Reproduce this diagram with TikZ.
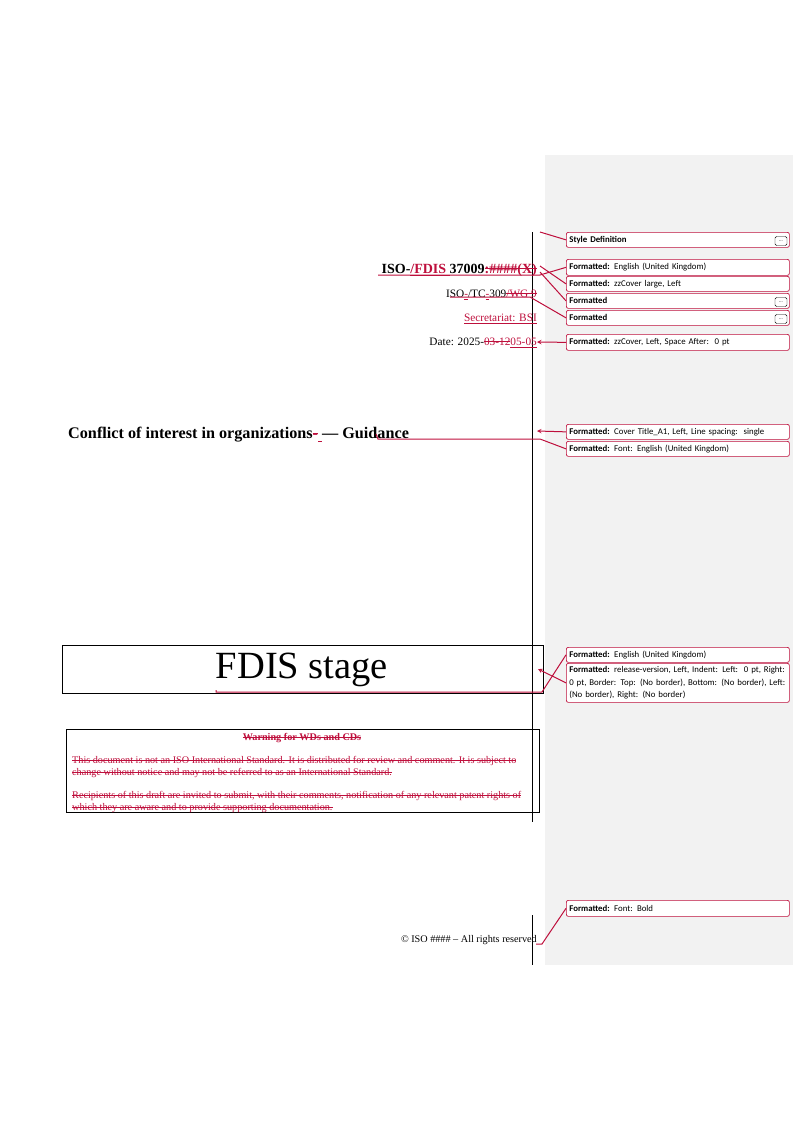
\documentclass[tikz,border=0pt]{standalone}
\usepackage{fontspec}
\setmainfont{Liberation Serif}
\newfontfamily\bfont{Carlito}
\definecolor{rev}{RGB}{190,15,60}
\definecolor{pane}{RGB}{242,242,242}
\newcommand{\del}[1]{{\color{rev}\setbox0=\hbox{#1}\rlap{\raisebox{0.28em}{\rule{\wd0}{0.6pt}}}\box0}}
\newcommand{\ins}[1]{{\color{rev}\setbox0=\hbox{#1}\rlap{\raisebox{-0.22em}{\rule{\wd0}{0.6pt}}}\box0}}
\begin{document}
\begin{tikzpicture}[x=1pt,y=-1pt,
  balloon/.style={draw=rev,rounded corners=2pt,line width=0.7pt,fill=white,anchor=north west,minimum width=223pt,text width=217pt,inner sep=3pt,font=\bfont\fontsize{8.8}{12.5}\selectfont,align=left},
  lead/.style={rev,line width=1pt},
  more/.style={draw,rounded corners=1.5pt,minimum width=12pt,minimum height=9pt,inner sep=0pt,font=\bfont\tiny,fill=white},
  wtxt/.style={font=\fontsize{10.2}{12}\selectfont,anchor=base west,inner sep=0pt}]
\useasboundingbox (0,0) rectangle (793,1122);
\fill[pane] (545,155) rectangle (793,965);
\draw[line width=0.8pt] (532,232) -- (532,822);
\draw[line width=0.8pt] (532,915) -- (532,965);
% balloons
\node[balloon,minimum height=15pt] (b1) at (566,232) {\textbf{Style Definition}};
\node[more] at (781,241) {...};
\node[balloon,minimum height=16pt] (b2) at (566,259) {\textbf{Formatted:} English (United Kingdom)};
\node[balloon,minimum height=15pt] (b3) at (566,276) {\textbf{Formatted:} zzCover large, Left};
\node[balloon,minimum height=15pt] (b4) at (566,293) {\textbf{Formatted}};
\node[more] at (781,302) {...};
\node[balloon,minimum height=15pt] (b5) at (566,310) {\textbf{Formatted}};
\node[more] at (781,319) {...};
\node[balloon,minimum height=16pt] (b6) at (566,334) {\textbf{Formatted:} zzCover, Left, Space After:\ \ 0 pt};
\node[balloon,minimum height=15pt] (b7) at (566,424) {\textbf{Formatted:} Cover Title\_A1, Left, Line spacing:\ \ single};
\node[balloon,minimum height=15pt] (b8) at (566,441) {\textbf{Formatted:} Font: English (United Kingdom)};
\node[balloon,minimum height=15pt] (b9) at (566,647) {\textbf{Formatted:} English (United Kingdom)};
\node[balloon,minimum height=39pt] (b10) at (566,663) {\textbf{Formatted:} release-version, Left, Indent: Left:\ \ 0 pt, Right:\ \ 0 pt, Border: Top: (No border), Bottom: (No border), Left: (No border), Right: (No border)};
\node[balloon,minimum height=16pt] (b11) at (566,900) {\textbf{Formatted:} Font: Bold};
% texts
\node[anchor=base east,inner sep=0pt,font=\fontsize{14}{16}\selectfont\bfseries] (t1) at (537,273) {ISO-\ins{/FDIS }37009\del{:\#\#\#\#(X)}};
\node[anchor=base east,inner sep=0pt,font=\fontsize{11.3}{13}\selectfont] (t2) at (537,297) {ISO\ins{-}/TC\ins{-}309\del{/WG 9}};
\node[anchor=base east,inner sep=0pt,font=\fontsize{11.3}{13}\selectfont] (t3) at (537,321) {\ins{Secretariat: BSI}};
\node[anchor=base east,inner sep=0pt,font=\fontsize{11.3}{13}\selectfont] (t4) at (537,345) {Date: 2025-\del{03-12}\ins{05-05}};
\node[anchor=base west,inner sep=0pt,font=\fontsize{16.2}{18}\selectfont\bfseries] (t5) at (68,438) {Conflict of interest in organizations\del{-}\ins{ }— Guidance};
\node[draw,line width=0.8pt,minimum width=481pt,minimum height=48pt,anchor=north west,inner sep=0pt] (fb) at (62,645) {};
\node[font=\fontsize{38.5}{42}\selectfont] (fd) at (302,670) {FDIS stage};
\node[draw,line width=0.8pt,minimum width=473pt,minimum height=83pt,anchor=north west,inner sep=0pt] (wb) at (66,729) {};
\node[font=\fontsize{10.2}{12}\selectfont\bfseries,anchor=base] (w1) at (302,740) {\del{Warning for WDs and CDs}};
\node[wtxt] (w2) at (72,763) {\del{This document is not an ISO International Standard. It is distributed for review and comment. It is subject to}};
\node[wtxt] (w3) at (72,775) {\del{change without notice and may not be referred to as an International Standard.}};
\node[wtxt] (w4) at (72,798) {\del{Recipients of this draft are invited to submit, with their comments, notification of any relevant patent rights of}};
\node[wtxt] (w5) at (72,810) {\del{which they are aware and to provide supporting documentation.}};
\node[anchor=base east,inner sep=0pt,font=\fontsize{10.2}{12}\selectfont] (t6) at (537,942) {© ISO \#\#\#\# – All rights reserved};
% leader lines
\coordinate (s1) at (540,232);
\draw[lead] (s1) -- (b1.west);
\draw[lead] (378,275) -- (540,275) -- (b2.west);
\draw[lead] (540,266) -- (b3.west);
\draw[lead] (540,272) -- (b4.west);
\draw[lead] (450,297) -- (530,297) -- (b5.west);
\draw[lead,-stealth] (b6.west) -- (537,342);
\draw[lead,-stealth] (b7.west) -- (537,431);
\draw[lead] (376,434) -- (378,439) -- (540,439) -- (b8.west);
\draw[lead,-stealth] (b10.west) -- (538,669);
\draw[lead] (216,690) -- (216,692) -- (542,692) -- (b9.west);
\draw[lead] (536,944) -- (542,944) -- (b11.west);
\end{tikzpicture}
\end{document}
